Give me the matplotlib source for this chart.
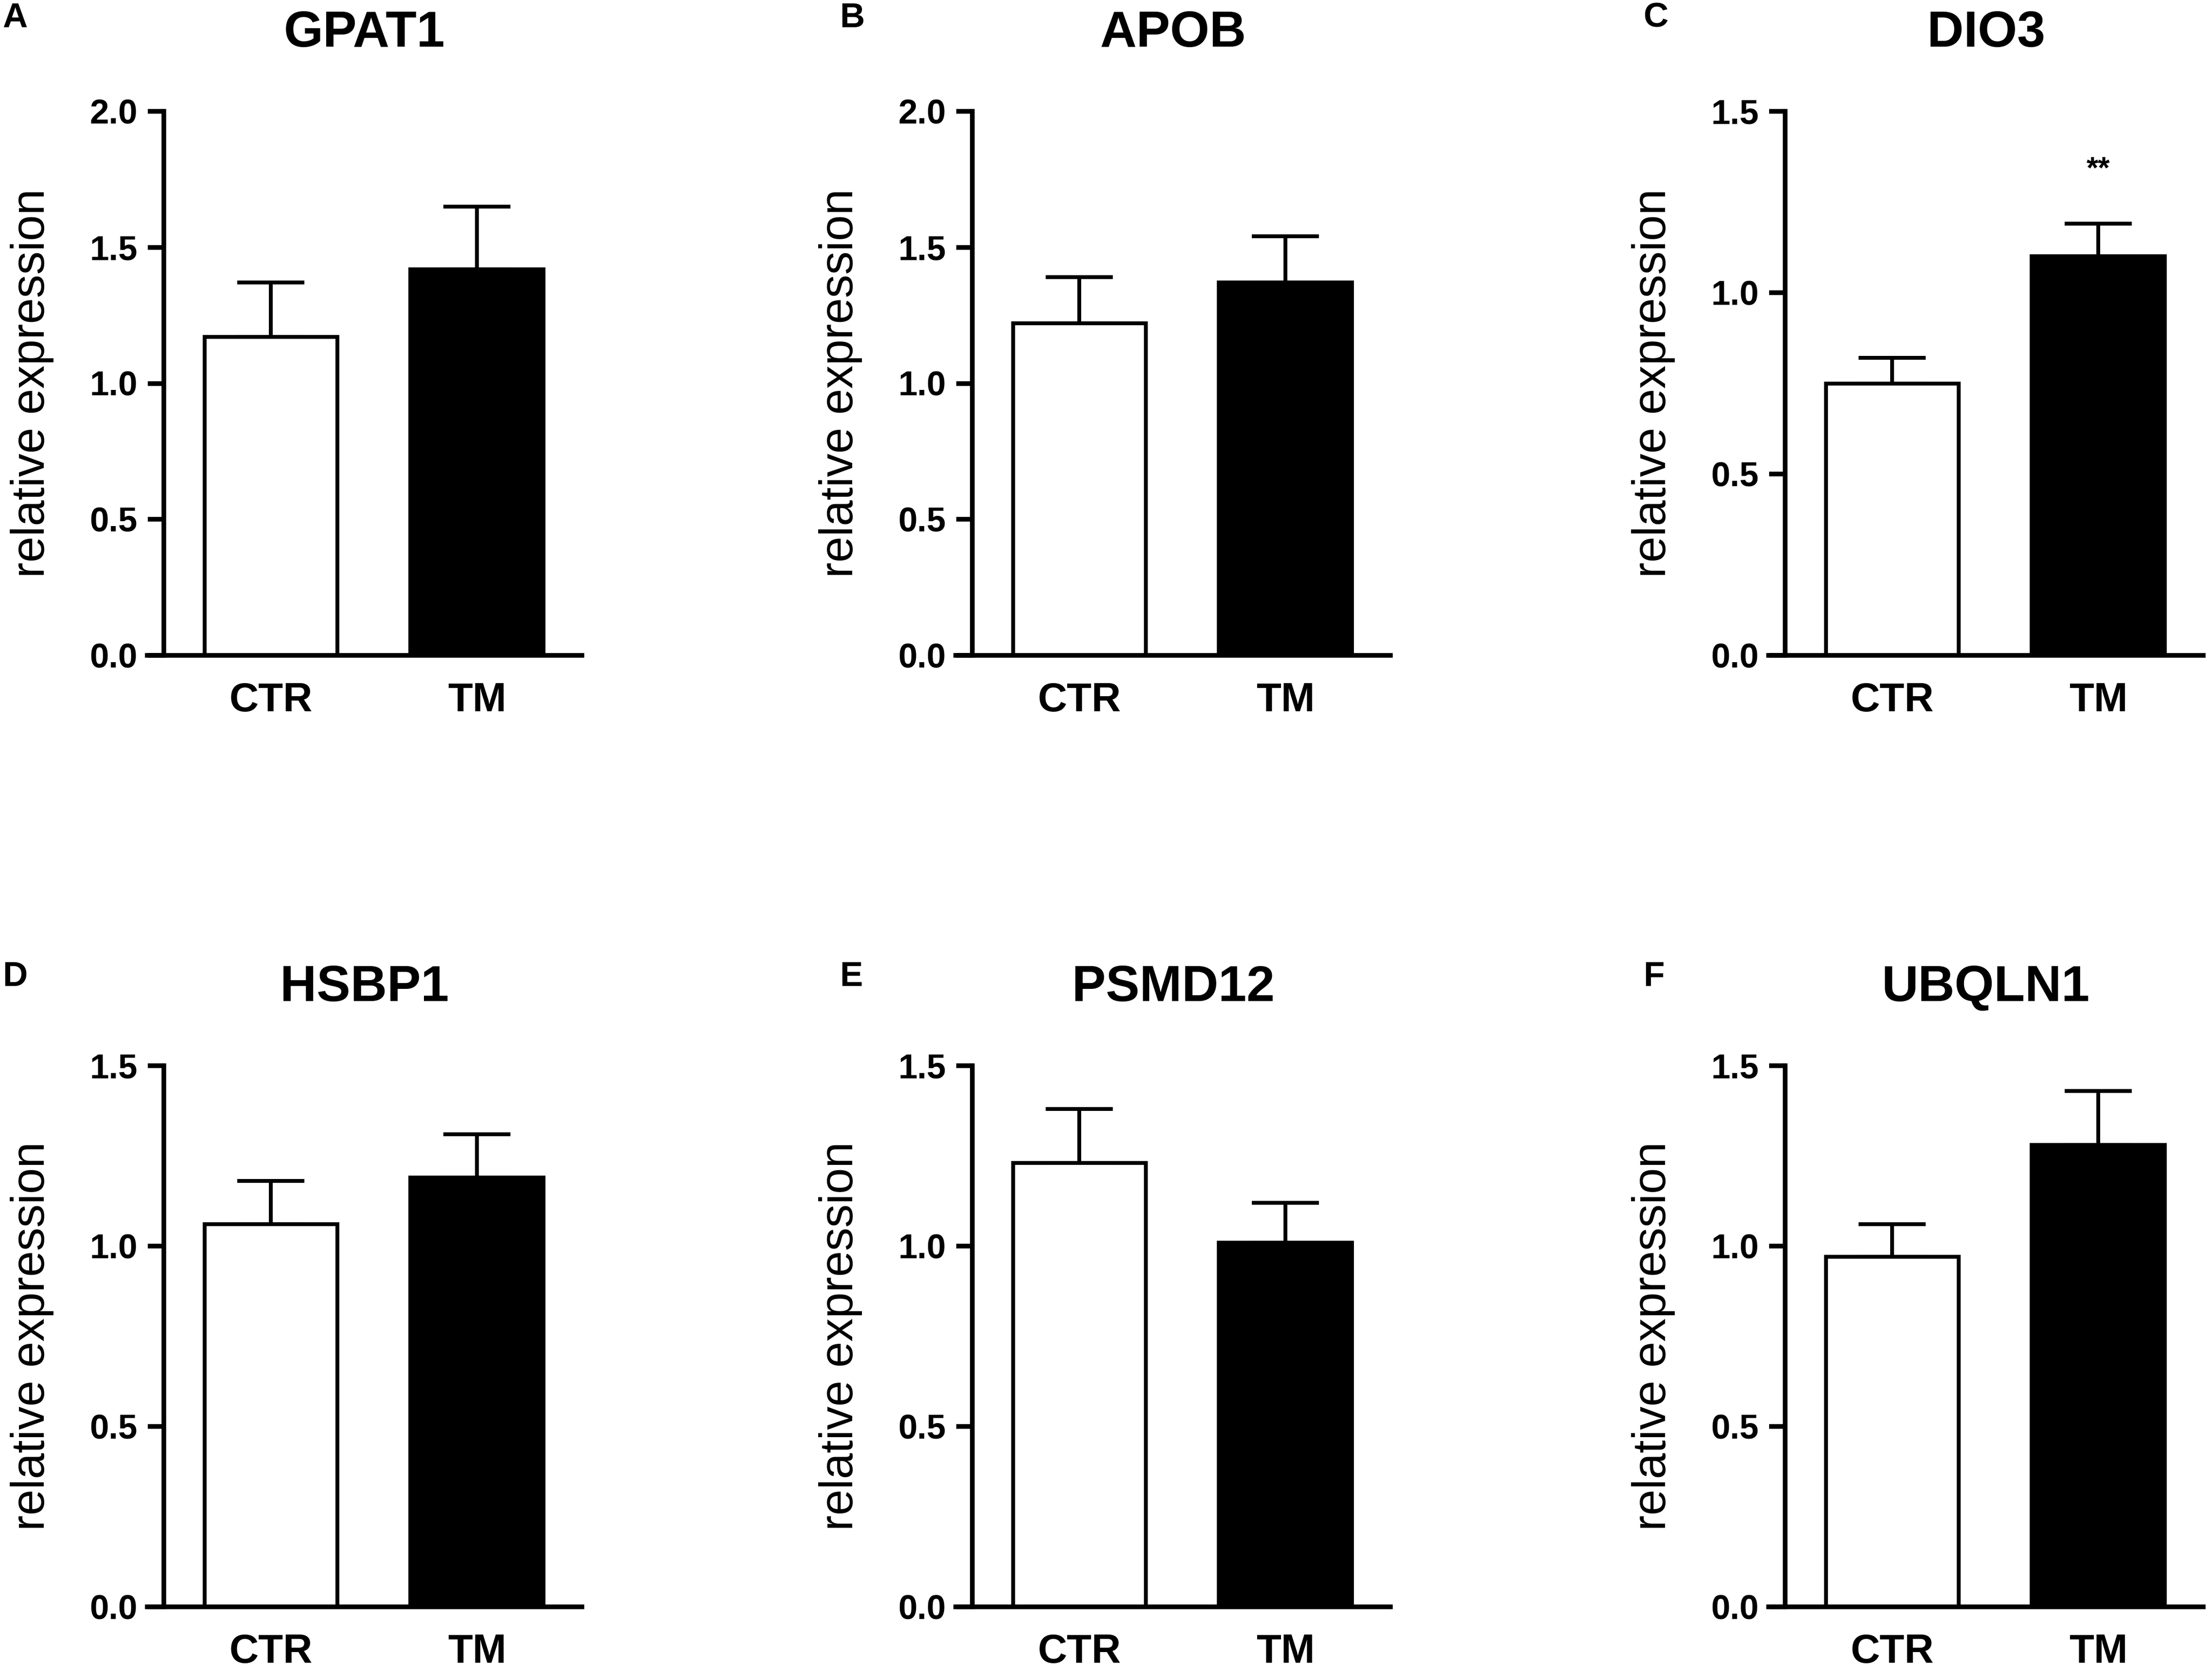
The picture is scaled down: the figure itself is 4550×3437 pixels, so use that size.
import numpy as np
import matplotlib
matplotlib.use("Agg")
import matplotlib.pyplot as plt

plt.rcParams['font.family'] = ['Liberation Sans', 'DejaVu Sans']

# values
genes = ['GPAT1', 'APOB', 'DIO3', 'HSBP1', 'PSMD12', 'UBQLN1']
letters = ['A', 'B', 'C', 'D', 'E', 'F']
groups = ['CTR', 'TM']
ctr_mean = [1.17, 1.22, 0.75, 1.06, 1.23, 0.97]
ctr_err = [0.20, 0.17, 0.07, 0.12, 0.15, 0.09]
tm_mean = [1.42, 1.37, 1.10, 1.19, 1.01, 1.28]
tm_err = [0.23, 0.17, 0.09, 0.12, 0.11, 0.15]
y_max = [2.0, 2.0, 1.5, 1.5, 1.5, 1.5]
signif = ['', '', '**', '', '', '']

W, H = 4550, 3437
fig = plt.figure(figsize=(W / 300, H / 300), dpi=300)

# axes placement in pixels (left edge of axes, top of y range, y=0 line)
col_left = [303, 1966, 3638]
row_top = [229, 2192]
row_bottom = [1348, 3305]
ax_w = 894
letter_x = [5, 1727, 3380]
letter_y = [38, 2010]

xlo, xhi, spine_x = -0.60, 1.51, -0.52
lw = 2.3

for i, gene in enumerate(genes):
    r, c = divmod(i, 3)
    left = col_left[c] / W
    bottom = (H - row_bottom[r]) / H
    height = (row_bottom[r] - row_top[r]) / H
    ax = fig.add_axes([left, bottom, ax_w / W, height])

    x = np.arange(len(groups))
    means = [ctr_mean[i], tm_mean[i]]
    errs = [ctr_err[i], tm_err[i]]
    ax.errorbar(x, means, yerr=[[0, 0], errs], fmt='none', ecolor='black',
                elinewidth=1.9, capsize=16.5, capthick=1.9, zorder=1)
    ax.bar(x, means, width=0.645, color=['white', 'black'], edgecolor='black',
           linewidth=1.9, zorder=2)

    if signif[i]:
        ax.text(1, tm_mean[i] + tm_err[i] + 0.11, signif[i], ha='center', va='bottom',
                fontsize=15, fontweight='bold')

    ax.set_xlim(xlo, xhi)
    ax.set_ylim(0, y_max[i])
    ax.set_yticks(np.arange(0, y_max[i] + 0.01, 0.5))
    ax.set_yticklabels([f"{v:.1f}" for v in np.arange(0, y_max[i] + 0.01, 0.5)])
    ax.set_xticks(x)
    ax.set_xticklabels(groups)

    for s in ['top', 'right']:
        ax.spines[s].set_visible(False)
    ax.spines['left'].set_position(('data', spine_x))
    ax.spines['left'].set_linewidth(lw)
    ax.spines['bottom'].set_linewidth(lw)
    ax.tick_params(axis='y', length=8, width=lw, pad=5, labelsize=17)
    ax.tick_params(axis='x', length=0, pad=13, labelsize=20)
    for t in ax.get_xticklabels() + ax.get_yticklabels():
        t.set_fontweight('bold')

    ax.set_ylabel('relative expression', fontsize=23)
    ax.yaxis.set_label_coords(-0.215, 0.5)
    ax.set_title(gene, fontsize=25, fontweight='bold', pad=32)

    fig.text(letter_x[c] / W, 1 - letter_y[r] / H, letters[i], ha='left', va='center',
             fontsize=17, fontweight='bold')

fig.savefig('out.png', dpi=300)
